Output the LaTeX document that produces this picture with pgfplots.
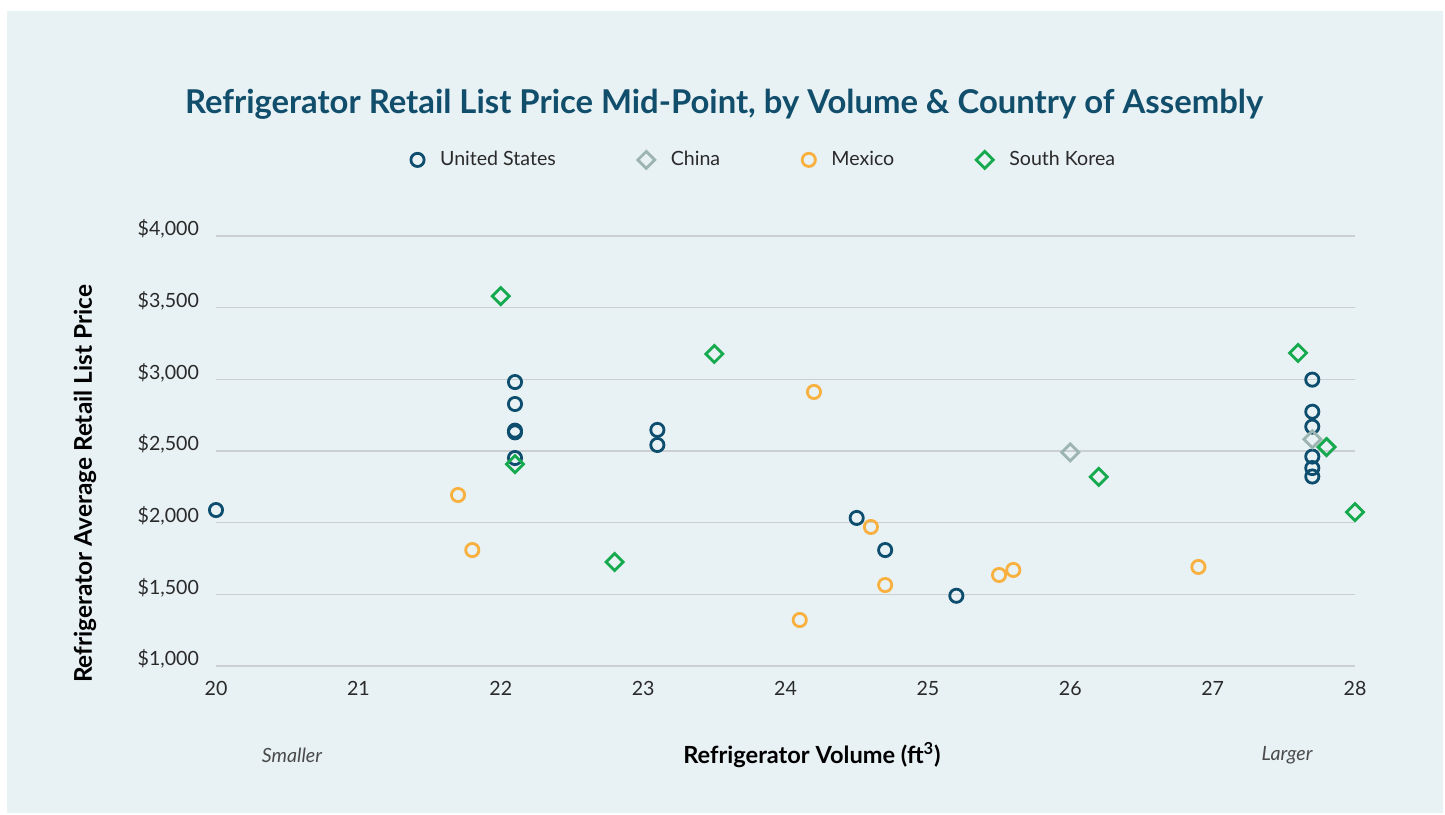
\documentclass[border=0pt]{standalone}
\usepackage{pgfplots}
\pgfplotsset{compat=1.18}
\usepackage{fontspec}
\setmainfont{Lato}
\definecolor{bgpanel}{HTML}{E8F1F4}
\definecolor{usblue}{HTML}{0D4D6E}
\definecolor{chgray}{HTML}{9DB5B0}
\definecolor{mxorange}{HTML}{F8B03F}
\definecolor{skgreen}{HTML}{16AA4F}
\definecolor{titleblue}{HTML}{114E6C}
\definecolor{gridgray}{HTML}{CBCFD1}
\definecolor{ticktext}{HTML}{2A2A2A}
\begin{document}
\begin{tikzpicture}
\path[use as bounding box] (0,0) rectangle (722.5pt,407pt);
\fill[bgpanel] (3.5pt,0.5pt) rectangle (721.5pt,401.5pt);
\node[font=\fontsize{16.4}{19}\selectfont\bfseries, text=titleblue] at (362pt,355pt) {Refrigerator Retail List Price Mid-Point, by Volume \& Country of Assembly};
\node[font=\fontsize{12.2}{14}\selectfont\bfseries, rotate=90] at (42.5pt,165pt) {Refrigerator Average Retail List Price};
\node[font=\fontsize{11.8}{14}\selectfont\bfseries] at (406pt,29.5pt) {Refrigerator Volume (ft\textsuperscript{3})};
\node[font=\fontsize{9.8}{11}\selectfont\itshape, text=ticktext!85] at (146pt,29.5pt) {Smaller};
\node[font=\fontsize{9.8}{11}\selectfont\itshape, text=ticktext!85] at (643.5pt,29.5pt) {Larger};
\begin{axis}[
  at={(108pt,74pt)}, anchor=south west,
  scale only axis, width=569.5pt, height=215pt,
  xmin=20, xmax=28, ymin=1000, ymax=4000,
  axis line style={draw=none},
  major tick length=0pt,
  xtick={20,21,22,23,24,25,26,27,28},
  xticklabels={20,21,22,23,24,25,26,27,28},
  ytick={1000,1500,2000,2500,3000,3500,4000},
  yticklabels={{\$1,000},{\$1,500},{\$2,000},{\$2,500},{\$3,000},{\$3,500},{\$4,000}},
  ymajorgrids, grid style={gridgray, line width=0.6pt},
  tick label style={font=\fontsize{9.8}{11}\selectfont, text=ticktext},
  xticklabel style={yshift=-4pt},
  yticklabel style={xshift=-5pt, yshift=3.5pt},
  clip=false,
  legend columns=4,
  legend style={at={(0.482,1.177)}, anchor=center, draw=none, fill=none,
    font=\fontsize{9.8}{11}\selectfont, text=ticktext,
    /tikz/every odd column/.append style={column sep=6pt},
    /tikz/every even column/.append style={column sep=39pt}},
  legend cell align=left,
]
\addplot[only marks, mark=o, mark size=3.3pt, usblue, line width=1.4pt] coordinates {
(20.0,2088) (22.1,2981) (22.1,2828) (22.1,2630) (22.1,2642) (22.1,2451)
(23.1,2647) (23.1,2542) (24.5,2033) (24.7,1809) (25.2,1490)
(27.7,2998) (27.7,2774) (27.7,2670) (27.7,2461) (27.7,2381) (27.7,2322)
};
\addlegendentry{United States}
\addplot[only marks, mark=square, mark size=3pt, mark options={rotate=45}, chgray, line width=1.4pt] coordinates {
(26.0,2490) (27.7,2582) (27.8,2525)
};
\addlegendentry{China}
\addplot[only marks, mark=o, mark size=3.3pt, mxorange, line width=1.4pt] coordinates {
(21.7,2193) (21.8,1809) (24.2,2912) (24.1,1321) (24.6,1970) (24.7,1565)
(25.5,1635) (25.6,1670) (26.9,1691)
};
\addlegendentry{Mexico}
\addplot[only marks, mark=square, mark size=3pt, mark options={rotate=45}, skgreen, line width=1.4pt] coordinates {
(22.0,3581) (22.1,2409) (22.8,1726) (23.5,3177) (26.2,2319) (27.6,3184)
(27.8,2528) (28.0,2074)
};
\addlegendentry{South Korea}
\end{axis}
\end{tikzpicture}
\end{document}
